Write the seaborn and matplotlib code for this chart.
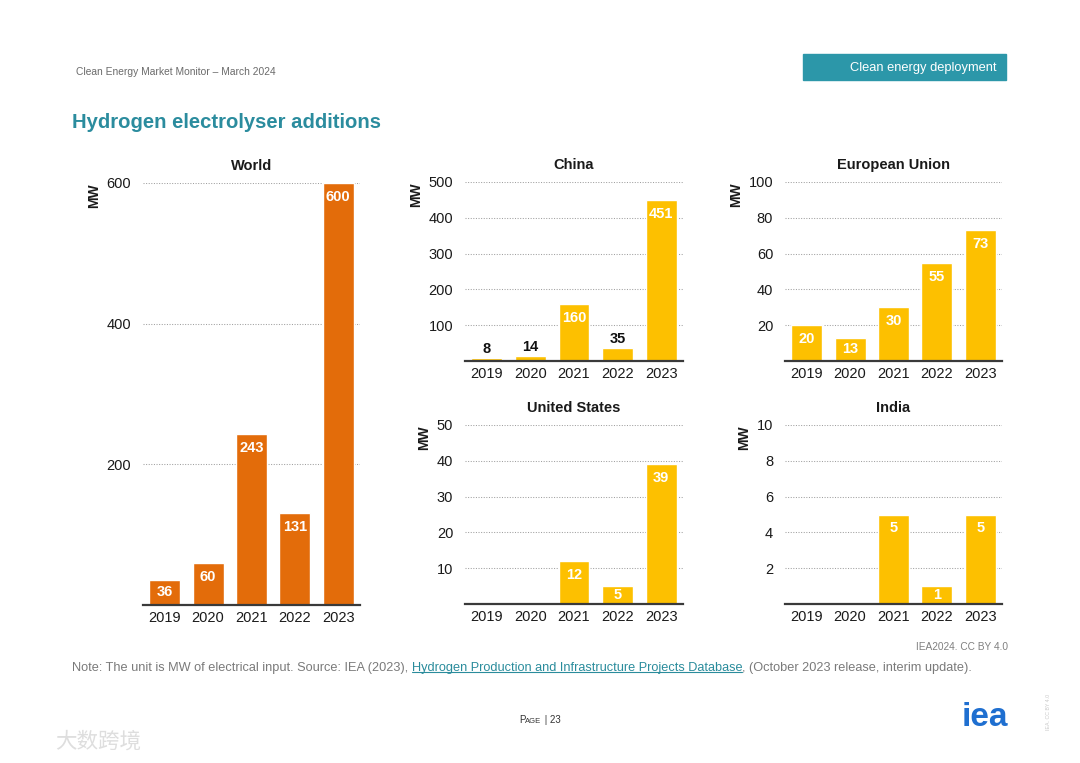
import matplotlib
matplotlib.use("Agg")
import matplotlib.pyplot as plt
from matplotlib.patches import Rectangle
from matplotlib.lines import Line2D
import seaborn as sns
import pandas as pd

# ---------------- data ----------------
years = ["2019", "2020", "2021", "2022", "2023"]
world = [36, 60, 243, 131, 600]
china = [8, 14, 160, 35, 451]
eu = [20, 13, 30, 55, 73]
us = [0.2, 0.3, 12, 5, 39]
india = [0, 0, 5, 1, 5]

world_ticks = [200, 400, 600]
china_ticks = [100, 200, 300, 400, 500]
eu_ticks = [20, 40, 60, 80, 100]
us_ticks = [10, 20, 30, 40, 50]
india_ticks = [2, 4, 6, 8, 10]

ORANGE = "#E36C0A"
YELLOW = "#FDC000"
TEAL = "#2B8C9E"

sns.set_theme(style="white")
plt.rcParams['font.family'] = ['Liberation Sans', 'Noto Sans CJK SC', 'DejaVu Sans']

W, H = 1080, 763
fig = plt.figure(figsize=(W / 100, H / 100), dpi=100)


def axes_px(l, t, r, b):
    return fig.add_axes([l / W, 1 - b / H, (r - l) / W, (b - t) / H])


def panel(ax, title, vals, ticks, color, hpx):
    df = pd.DataFrame({"year": years, "MW": vals})
    sns.barplot(data=df, x="year", y="MW", color=color, saturation=1,
                width=0.71, ax=ax)
    ax.set_xlim(-0.5, 4.5)
    ax.set_ylim(0, ticks[-1])
    ax.set_yticks(ticks)
    ax.yaxis.grid(True, linestyle=(0, (1, 1.5)), color="#a0a0a0", linewidth=0.75)
    ax.xaxis.grid(False)
    ax.set_axisbelow(True)
    for s in ["left", "right", "top"]:
        ax.spines[s].set_visible(False)
    ax.spines["bottom"].set_color("#3a3a3a")
    ax.spines["bottom"].set_linewidth(1.6)
    ax.tick_params(axis="both", length=0, labelsize=10.5, colors="#1a1a1a")
    ax.tick_params(axis="y", pad=8.5)
    ax.tick_params(axis="x", pad=4)
    ax.set_xlabel("")
    ax.set_ylabel("MW", loc="top", fontsize=10, fontweight="bold",
                  color="#1a1a1a", labelpad=4)
    ax.set_title(title, fontsize=10.5, fontweight="bold", color="#1a1a1a", pad=9)
    for i, v in enumerate(vals):
        if v < 1:
            continue
        h = v / ticks[-1] * hpx
        if h < 15:
            ax.annotate(f"{v:g}", xy=(i, v), xytext=(0, 9), textcoords="offset pixels",
                        ha="center", va="center", fontsize=10.5, fontweight="bold",
                        color="#111111")
        else:
            ax.annotate(f"{v:g}", xy=(i, v), xytext=(0, -min(14, h / 2)),
                        textcoords="offset pixels", ha="center", va="center",
                        fontsize=10.5, fontweight="bold", color="white")


ax_w = axes_px(143, 183, 360, 605)
ax_c = axes_px(465, 182, 683, 361)
ax_e = axes_px(785, 182, 1002, 361)
ax_u = axes_px(465, 425, 683, 604)
ax_i = axes_px(785, 425, 1002, 604)

panel(ax_w, "World", world, world_ticks, ORANGE, 422)
panel(ax_c, "China", china, china_ticks, YELLOW, 179)
panel(ax_e, "European Union", eu, eu_ticks, YELLOW, 179)
panel(ax_u, "United States", us, us_ticks, YELLOW, 179)
panel(ax_i, "India", india, india_ticks, YELLOW, 179)

# ---------------- header ----------------
fig.text(76 / W, 1 - 72 / H, "Clean Energy Market Monitor – March 2024",
         fontsize=7.4, color="#6b6b6b", va="center")
fig.patches.append(Rectangle((803 / W, 1 - 80 / H), 203 / W, 26 / H,
                             transform=fig.transFigure, color="#2C97A9", zorder=0))
fig.text(997 / W, 1 - 67.5 / H, "Clean energy deployment", ha="right", va="center",
         color="white", fontsize=9.3)
fig.text(72 / W, 1 - 122 / H, "Hydrogen electrolyser additions", fontsize=14.6,
         fontweight="bold", color=TEAL, va="center")

# ---------------- footer ----------------
fig.text(1008 / W, 1 - 647 / H, "IEA2024. CC BY 4.0", ha="right", va="center",
         fontsize=7.3, color="#808080")
FS = 9.2
t1 = fig.text(72 / W, 1 - 668 / H,
              "Note: The unit is MW of electrical input. Source: IEA (2023), ",
              fontsize=FS, color="#7a7a7a", va="center")
t2 = fig.text(0, 0, "Hydrogen Production and Infrastructure Projects Database",
              fontsize=FS, color="#2A8C9C", va="center")
t3 = fig.text(0, 0, ", (October 2023 release, interim update).",
              fontsize=FS, color="#7a7a7a", va="center")

p1 = fig.text(0, 0, "P", fontsize=7, color="#333333", va="baseline", ha="left")
p2 = fig.text(0, 0, "AGE", fontsize=5.5, color="#333333", va="baseline", ha="left")
p3 = fig.text(0, 0, " | 23", fontsize=7, color="#333333", va="baseline", ha="left")

fig.canvas.draw()
r = fig.canvas.get_renderer()
bb1 = t1.get_window_extent(r)
t2.set_position((bb1.x1 / W, 1 - 668 / H))
fig.canvas.draw()
bb2 = t2.get_window_extent(r)
t3.set_position((bb2.x1 / W, 1 - 668 / H))
fig.add_artist(Line2D([bb2.x0 / W, bb2.x1 / W], [(bb2.y0 + 2) / H] * 2,
                      transform=fig.transFigure, color="#2A8C9C", linewidth=0.8))

# PAGE | 23 small caps
p1.set_position((519 / W, 1 - 723 / H))
fig.canvas.draw()
b = p1.get_window_extent(r)
p2.set_position((b.x1 / W, 1 - 723 / H))
fig.canvas.draw()
b = p2.get_window_extent(r)
p3.set_position((b.x1 / W, 1 - 723 / H))

fig.text(1008 / W, 1 - 718 / H, "iea", ha="right", va="center", fontsize=24,
         fontweight="bold", color="#1F6FD0")
fig.text(1049 / W, 1 - 712 / H, "IEA. CC BY 4.0", rotation=90, fontsize=3.8,
         color="#c8c8c8", ha="center", va="center")
fig.text(55 / W, 1 - 742 / H, "大数跨境", fontsize=15.5, color="#dedede", va="center",
         family=["Noto Sans CJK SC", "DejaVu Sans"])

fig.savefig("out.png", dpi=100)
